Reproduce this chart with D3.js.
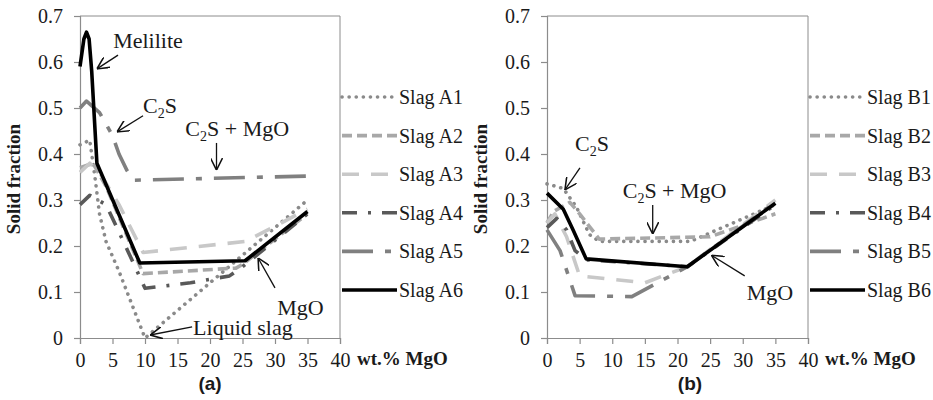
<!DOCTYPE html>
<html>
<head>
<meta charset="utf-8">
<script src="https://cdn.jsdelivr.net/npm/d3@7"></script>
<style>
  body { margin: 0; background: #fff; }
</style>
</head>
<body>
<script>
//// Data ////////////////////////////////////////////
const xTicks = [0, 5, 10, 15, 20, 25, 30, 35, 40]
const yTicks = [0, 0.1, 0.2, 0.3, 0.4, 0.5, 0.6, 0.7]

const namesA = ["Slag A1", "Slag A2", "Slag A3", "Slag A4", "Slag A5", "Slag A6"]
const namesB = ["Slag B1", "Slag B2", "Slag B3", "Slag B4", "Slag B5", "Slag B6"]

// [wt.% MgO, solid fraction]
const slagA1 = [[0, 0.42], [1.5, 0.43], [2.3, 0.35], [3, 0.27], [4, 0.21], [6, 0.145], [10, 0], [35, 0.3]]
const slagA2 = [[0, 0.37], [2, 0.38], [4, 0.33], [9.7, 0.14], [24, 0.152], [25, 0.16], [35, 0.27]]
const slagA3 = [[0, 0.36], [1.5, 0.38], [3, 0.36], [6, 0.29], [9.7, 0.186], [25.5, 0.21], [35, 0.28]]
const slagA4 = [[0, 0.29], [1.5, 0.31], [4, 0.29], [7, 0.2], [10, 0.108], [17, 0.12], [23, 0.135], [25, 0.155], [35, 0.27]]
const slagA5 = [[0, 0.5], [1, 0.515], [3, 0.49], [5, 0.44], [6, 0.4], [7.2, 0.365], [8.3, 0.343], [35, 0.352]]
const slagA6 = [[0, 0.59], [0.6, 0.65], [1, 0.665], [1.4, 0.65], [1.8, 0.58], [2.6, 0.38], [9.2, 0.163], [25.4, 0.168], [35, 0.275]]

const slagB1 = [[0, 0.335], [2.5, 0.325], [4.5, 0.285], [6.5, 0.225], [8, 0.21], [22, 0.21], [35, 0.29]]
const slagB2 = [[0, 0.25], [1, 0.275], [3.5, 0.295], [5, 0.27], [8, 0.215], [25, 0.22], [35, 0.27]]
const slagB3 = [[0, 0.25], [1.2, 0.27], [3, 0.22], [5, 0.135], [15, 0.12], [21.5, 0.155], [35, 0.3]]
const slagB4 = [[0, 0.24], [1.5, 0.26], [3, 0.235], [4.3, 0.19], [6, 0.17], [21.5, 0.155], [35, 0.29]]
const slagB5 = [[0, 0.235], [2, 0.19], [4.3, 0.092], [13, 0.09], [21.5, 0.155], [35, 0.295]]
const slagB6 = [[0, 0.315], [2.5, 0.28], [4, 0.235], [6, 0.172], [21.5, 0.155], [35, 0.293]]

const seriesA = [slagA1, slagA2, slagA3, slagA4, slagA5, slagA6]
const seriesB = [slagB1, slagB2, slagB3, slagB4, slagB5, slagB6]

// annotation labels: text, text anchor [x, y], arrow tail, arrow head (data units)
const notesA = [
    { t: "Melilite", at: [5.1, 0.63], from: [5.85, 0.615], to: [2.6, 0.585] },
    { t: "C2S", at: [9.7, 0.49], from: [9.7, 0.483], to: [5.7, 0.448] },
    { t: "C2S + MgO", at: [16.2, 0.439], from: [21, 0.424], to: [21, 0.365] },
    { t: "MgO", at: [30.35, 0.05], from: [30, 0.109], to: [27.4, 0.174] },
    { t: "Liquid slag", at: [17.4, 0.0065], from: [17.25, 0.024], to: [10.8, 0.0065] }
]
const notesB = [
    { t: "C2S", at: [4.3, 0.407], from: [5.05, 0.37], to: [2.75, 0.322] },
    { t: "C2S + MgO", at: [11.6, 0.304], from: [16.2, 0.289], to: [16.2, 0.226] },
    { t: "MgO", at: [30.6, 0.083], from: [30.3, 0.135], to: [25.2, 0.18] }
]

//// Styles //////////////////////////////////////////
const SERIF = '"Liberation Serif"'
const SANS = '"Liberation Sans"'

const styles = [
    { color: "#8a8a8a", dash: "0.1,7", cap: "round" },
    { color: "#a8a8a8", dash: "10,5", cap: "butt" },
    { color: "#c8c8c8", dash: "17,12", cap: "butt" },
    { color: "#595959", dash: "15,11,3,11", cap: "butt" },
    { color: "#808080", dash: "31,12,6,12", cap: "butt" },
    { color: "#000000", dash: null, cap: "butt" }
]

const WIDTH = 933
const HEIGHT = 400
const axisColor = "#8c8c8c"
const textColor = "#1a1a1a"

const svg = d3.select("body")
    .append("svg")
    .attr("width", WIDTH)
    .attr("height", HEIGHT)
    .style("font-family", SERIF)

svg.append("defs").append("marker")
    .attr("id", "arrow")
    .attr("viewBox", "0 0 10 10")
    .attr("refX", 10)
    .attr("refY", 5)
    .attr("markerWidth", 12)
    .attr("markerHeight", 12)
    .attr("markerUnits", "userSpaceOnUse")
    .attr("orient", "auto")
    .append("path")
    .attr("d", "M0,0 L10,5 L0,10")
    .attr("fill", "none")
    .attr("stroke", "#111")
    .attr("stroke-width", 1.3)

function addText(g, size, bold) {
    return g.append("text")
        .attr("fill", textColor)
        .style("font-family", SERIF)
        .style("font-size", size + "px")
        .style("font-weight", bold ? "bold" : "normal")
}

function drawPanel(left, right, series, names, notes, tag, tagX) {
    const x = d3.scaleLinear().domain([0, 40]).range([left, right])
    const y = d3.scaleLinear().domain([0, 0.7]).range([338, 16])

    const g = svg.append("g")

    // box
    g.append("path")
        .attr("d", `M${left},${y(0.7)} H${right} V${y(0)}`)
        .attr("fill", "none")
        .attr("stroke", axisColor)
        .attr("stroke-width", 1)

    const xAxis = g.append("g")
        .attr("transform", `translate(0,${y(0)})`)
        .call(d3.axisBottom(x).tickValues(xTicks).tickSize(6).tickPadding(9).tickFormat(d3.format("d")))
    const yAxis = g.append("g")
        .attr("transform", `translate(${left},0)`)
        .call(d3.axisLeft(y).tickValues(yTicks).tickSize(6).tickPadding(11)
            .tickFormat(d => d === 0 ? "0" : d3.format(".1f")(d)))

    for (const ax of [xAxis, yAxis]) {
        ax.attr("font-family", null).attr("font-size", null)
        ax.select(".domain").attr("stroke", axisColor).attr("stroke-width", 1.2)
        ax.selectAll(".tick line").attr("stroke", axisColor).attr("stroke-width", 1.2)
        ax.selectAll(".tick text")
            .attr("fill", textColor)
            .style("font-family", SERIF)
            .style("font-size", "20px")
    }

    addText(g, 19, true)
        .attr("x", right + 17)
        .attr("y", y(0) + 27)
        .text("wt.% MgO")

    addText(g, 19, true)
        .attr("transform", `translate(${left - 60},${y(0.35) + 2}) rotate(-90)`)
        .attr("text-anchor", "middle")
        .text("Solid fraction")

    addText(g, 19, true)
        .attr("x", tagX)
        .attr("y", 390)
        .attr("text-anchor", "middle")
        .style("font-family", SANS)
        .text(tag)

    const line = d3.line()
        .x(d => x(d[0]))
        .y(d => y(d[1]))

    series.forEach((s, i) => {
        const st = styles[i]
        g.append("path")
            .datum(s)
            .attr("d", line)
            .attr("fill", "none")
            .attr("stroke", st.color)
            .attr("stroke-width", 3.6)
            .attr("stroke-linecap", st.cap)
            .attr("stroke-linejoin", "round")
            .attr("stroke-dasharray", st.dash)
    })

    // legend
    names.forEach((n, i) => {
        const st = styles[i]
        const ly = 97 + i * 38.6
        g.append("line")
            .attr("x1", right + 2)
            .attr("x2", right + 57)
            .attr("y1", ly)
            .attr("y2", ly)
            .attr("stroke", st.color)
            .attr("stroke-width", 3.6)
            .attr("stroke-linecap", st.cap)
            .attr("stroke-dasharray", st.dash)
        addText(g, 20, false)
            .attr("x", right + 59)
            .attr("y", ly + 7)
            .text(n)
    })

    // annotations
    notes.forEach(nt => {
        const tx = addText(g, 22, false)
            .attr("x", x(nt.at[0]))
            .attr("y", y(nt.at[1]))
        if (nt.t.startsWith("C2S")) {
            tx.append("tspan").text("C")
            tx.append("tspan").text("2").attr("dy", 5).style("font-size", "14px")
            tx.append("tspan").text(nt.t.slice(2)).attr("dy", -5)
        } else {
            tx.text(nt.t)
        }
        g.append("line")
            .attr("x1", x(nt.from[0]))
            .attr("y1", y(nt.from[1]))
            .attr("x2", x(nt.to[0]))
            .attr("y2", y(nt.to[1]))
            .attr("stroke", "#111")
            .attr("stroke-width", 1.3)
            .attr("marker-end", "url(#arrow)")
    })
}

drawPanel(80, 340, seriesA, namesA, notesA, "(a)", 210)
drawPanel(547, 808, seriesB, namesB, notesB, "(b)", 690)
</script>
</body>
</html>
